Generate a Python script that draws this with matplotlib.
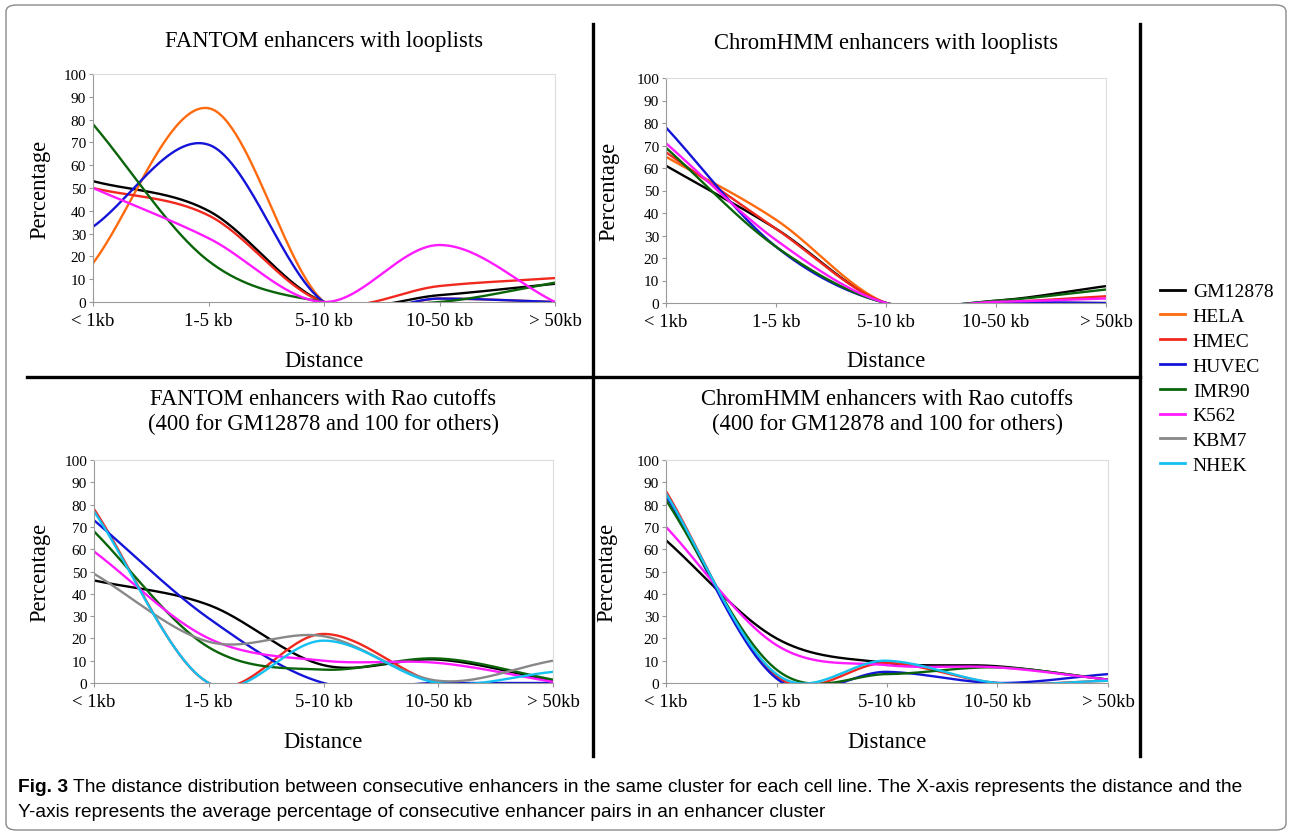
import numpy as np
import matplotlib
matplotlib.use("Agg")
import matplotlib.pyplot as plt
from matplotlib.lines import Line2D
from matplotlib.patches import FancyBboxPatch

SERIF = ["Liberation Serif", "DejaVu Serif"]
plt.rcParams["font.family"] = SERIF

# ── data (percentages at each distance class) ────────────────────────────────
categories = ["< 1kb", "1-5 kb", "5-10 kb", "10-50 kb", "> 50kb"]
cell_lines = ["GM12878", "HELA", "HMEC", "HUVEC", "IMR90", "K562", "KBM7", "NHEK"]
colors = {"GM12878": "#000000", "HELA": "#ff6a0d", "HMEC": "#f0281e", "HUVEC": "#1414d8",
          "IMR90": "#0a640a", "K562": "#ff1aff", "KBM7": "#888888", "NHEK": "#14c0f0"}

fantom_loop = {
    "GM12878": [53, 40, 0, 3, 8],
    "HELA":    [17, 85, 0, 1.5, 0],
    "HMEC":    [50, 38, 0, 7, 10.5],
    "HUVEC":   [33, 69, 0, 1.5, 0],
    "IMR90":   [78, 18, 0, 0, 8.5],
    "K562":    [50, 28, 0, 25, 0],
}
chromhmm_loop = {
    "GM12878": [61, 33, 0, 1, 7.5],
    "HELA":    [65, 37, 0, 0, 0],
    "HMEC":    [67, 33, 0, 0.3, 3],
    "HUVEC":   [78, 25, 0, 0.5, 0],
    "IMR90":   [69, 25, 0, 1, 6],
    "K562":    [71, 28, 0, 0.5, 2],
}
fantom_rao = {
    "GM12878": [46, 35, 8, 10.5, 1],
    "HMEC":    [78, 0, 22, 0, 0],
    "HUVEC":   [73, 29, 0, 0, 0],
    "IMR90":   [68, 16, 6, 11, 1.5],
    "K562":    [59, 20, 10, 9, 0.5],
    "KBM7":    [49, 18.5, 21, 1, 10],
    "NHEK":    [77, 0, 19, 0, 5],
}
chromhmm_rao = {
    "GM12878": [64, 20, 9, 7.5, 1.5],
    "HMEC":    [86, 3, 9, 0, 1],
    "HUVEC":   [84, 2, 5, 0, 4],
    "IMR90":   [82, 6, 4, 7, 1.5],
    "K562":    [70, 17, 8, 7, 1.5],
    "NHEK":    [85, 4, 10, 0, 1],
}

titles = ["FANTOM enhancers with looplists",
          "ChromHMM enhancers with looplists",
          "FANTOM enhancers with Rao cutoffs\n(400 for GM12878 and 100 for others)",
          "ChromHMM enhancers with Rao cutoffs\n(400 for GM12878 and 100 for others)"]
caption_bold = "Fig. 3"
caption_1 = (" The distance distribution between consecutive enhancers in the same cluster "
             "for each cell line. The X-axis represents the distance and the")
caption_2 = "Y-axis represents the average percentage of consecutive enhancer pairs in an enhancer cluster"


def smooth(y, n=60):
    """Excel-style smoothed line (Catmull-Rom through the data points)."""
    y = np.asarray(y, float)
    m = np.gradient(y)                      # central differences, one-sided at the ends
    xs, ys = [], []
    for i in range(len(y) - 1):
        t = np.linspace(0, 1, n)
        h00 = 2 * t**3 - 3 * t**2 + 1
        h10 = t**3 - 2 * t**2 + t
        h01 = -2 * t**3 + 3 * t**2
        h11 = t**3 - t**2
        xs.append(i + t)
        ys.append(h00 * y[i] + h10 * m[i] + h01 * y[i + 1] + h11 * m[i + 1])
    return np.concatenate(xs), np.concatenate(ys)


W, H = 1292, 837
fig = plt.figure(figsize=(W / 100, H / 100), dpi=100)


def fx(px): return px / W
def fy(py): return 1 - py / H


def panel(rect_px, data, title, title_y, xlab_y, ylab_x):
    x0, x1, ytop, ybot = rect_px
    ax = fig.add_axes([fx(x0), fy(ybot), fx(x1 - x0), (ybot - ytop) / H])
    for name in cell_lines:
        if name in data:
            xs, ys = smooth(data[name])
            ax.plot(xs, ys, color=colors[name], lw=1.7, solid_capstyle="butt")
    ax.set_xlim(0, 4)
    ax.set_ylim(0, 100)
    ax.set_yticks(range(0, 101, 10))
    ax.set_xticks(range(len(categories)))
    ax.set_xticklabels(categories, fontsize=13.5)
    ax.tick_params(axis="y", labelsize=11, length=3, pad=2, color="#999999")
    ax.tick_params(axis="x", length=3, pad=4, color="#999999")
    for s in ["left", "bottom"]:
        ax.spines[s].set_color("#9a9a9a")
    for s in ["top", "right"]:
        ax.spines[s].set_color("#dddddd")
    cx = (x0 + x1) / 2
    fig.text(fx(cx), fy(title_y), title, ha="center", va="center", fontsize=16.3,
             linespacing=1.28)
    fig.text(fx(cx), fy(xlab_y), "Distance", ha="center", va="center", fontsize=16.3)
    fig.text(fx(ylab_x), fy((ytop + ybot) / 2), "Percentage", ha="center", va="center",
             fontsize=16.3, rotation=90)
    return ax


panel((93, 555, 75, 303), fantom_loop, titles[0], 41, 362, 40)
panel((666, 1106, 79, 304), chromhmm_loop, titles[1], 44, 362, 609)
panel((94, 553, 461, 684), fantom_rao, titles[2], 412, 743, 40)
panel((666, 1108, 461, 684), chromhmm_rao, titles[3], 412, 743, 607)

# panel separators
for (xa, ya, xb, yb) in [(593, 25, 593, 757), (1140, 25, 1140, 757), (27, 378, 1140, 378)]:
    fig.add_artist(Line2D([fx(xa), fx(xb)], [fy(ya), fy(yb)], color="black", lw=2.4))

# outer rounded frame
fig.add_artist(FancyBboxPatch((fx(6), fy(831)), fx(1280), (831 - 6) / H,
                              boxstyle="round,pad=0,rounding_size=0.008",
                              transform=fig.transFigure, fill=False,
                              edgecolor="#8a8a8a", lw=1.0))

# legend
handles = [Line2D([], [], color=colors[c], lw=2) for c in cell_lines]
fig.legend(handles, cell_lines, loc="upper left", bbox_to_anchor=(fx(1152), fy(276)),
           frameon=False, fontsize=14, handlelength=1.3, handletextpad=0.4,
           labelspacing=0.37, borderaxespad=0)

# caption
CAP = ["Liberation Sans", "DejaVu Sans"]
t = fig.text(fx(18), fy(788), caption_bold, ha="left", va="center", fontsize=13.8,
             fontweight="bold", family=CAP)
fig.canvas.draw()
bb = t.get_window_extent()
fig.text(bb.x1 / W, fy(788), caption_1, ha="left", va="center", fontsize=13.8, family=CAP)
fig.text(fx(18), fy(813), caption_2, ha="left", va="center", fontsize=13.8, family=CAP)

fig.savefig("out.png", dpi=100)
